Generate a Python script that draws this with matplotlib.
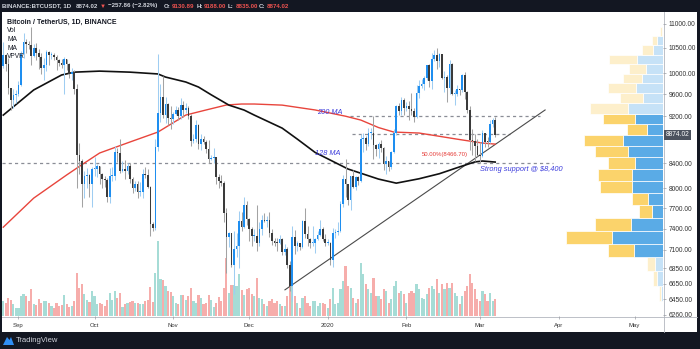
import numpy as np
import matplotlib
matplotlib.use("Agg")
import matplotlib.pyplot as plt
from matplotlib.patches import Rectangle, Polygon
from matplotlib.lines import Line2D
from matplotlib.ticker import NullLocator, FuncFormatter
from matplotlib.transforms import blended_transform_factory

plt.rcParams['font.family'] = ['Liberation Sans', 'DejaVu Sans']

# ---------------- data (daily candles, 26 Aug 2019 .. 7 Mar 2020) ----------------
opens = [10140,10360,10170,9720,9490,9580,
 9600,9770,10380,10620,10580,10570,10330,10490,10400,10320,10110,10160,10420,10350,10360,10310,10260,10190,10160,10270,10180,9980,10030,9690,8530,8430,8060,8190,8210,8060,
 8300,8300,8350,8230,8150,8130,7870,8200,8200,8580,8570,8270,8300,8280,8350,8150,8010,8070,7950,7950,8230,8210,8020,7470,7410,8660,9260,9550,9220,9420,9160,
 9150,9240,9310,9200,9400,9310,9340,9210,8770,8810,9040,8720,8800,8760,8640,8460,8490,8500,8170,8120,8080,7620,7280,7330,6900,7110,7160,7510,7420,7740,
 7540,7390,7290,7300,7200,7390,7530,7510,7530,7340,7220,7200,7190,7250,7070,7110,6890,6620,7280,7150,7190,7140,7510,7320,7250,7200,7200,7250,7310,7390,7250,
 7200,7200,6960,7340,7350,7360,7760,8150,8060,7820,8190,8020,8180,8110,8810,8820,8720,8900,8900,8700,8630,8720,8650,8390,8430,8340,8590,8900,9390,9290,9500,
 9350,9380,9330,9290,9180,9620,9760,9800,9900,10150,9850,10270,10350,10240,10370,9910,9930,9710,10170,9600,9610,9690,9670,9970,9650,9320,8790,8770,8690,
 8530,8520,8910,8760,8750,9070,9130.89]
highs = [10630,10380,10290,9720,9690,9670,
 9850,10440,10800,10690,10650,10930,10580,10600,10480,10390,10300,10450,10440,10420,10390,10360,10270,10280,10320,10280,10200,10100,10060,9790,8740,8460,8270,8320,8220,8330,
 8500,8390,8360,8240,8200,8160,8320,8330,8680,8650,8800,8430,8450,8400,8400,8170,8120,8120,8100,8300,8340,8300,8040,7500,8800,10370,9800,9950,9540,9440,9380,
 9280,9380,9370,9530,9470,9440,9380,9240,8880,9140,9070,8880,8850,8790,8780,8540,8650,8500,8230,8210,8110,7700,7350,7340,7370,7330,7650,7640,7860,7810,
 7560,7420,7400,7750,7490,7590,7620,7580,7640,7400,7270,7270,7310,7270,7180,7140,6950,7440,7380,7220,7200,7520,7700,7440,7270,7440,7270,7370,7520,7420,7320,
 7250,7210,7410,7400,7490,7800,8210,8460,8060,8200,8290,8190,8200,8880,8900,8850,9000,9000,9200,8720,8760,8790,8660,8520,8440,8600,8970,9400,9430,9550,9530,
 9450,9480,9620,9340,9780,9860,9880,9950,10160,10170,10390,10450,10500,10390,10380,10050,9970,10250,10190,9680,9770,9700,9990,10030,9660,9380,8970,8890,8800,
 8750,8960,8910,8840,9140,9170,9188.00]
lows = [10110,10050,9600,9320,9350,9430,
 9560,9750,10300,10400,10470,10150,10320,10250,10080,9980,9860,10040,10150,10280,10260,10070,10140,10100,9600,10070,9910,9860,9600,8000,8220,7710,7850,8000,7870,7710,
 8200,8170,8070,8000,8020,7790,7770,8120,8130,8420,8240,8250,8150,8230,8090,7930,7960,7850,7880,7850,8160,8010,7300,7360,7380,8600,9090,9160,9080,9040,8970,
 9070,9220,9130,9150,9180,9250,9150,8680,8740,8760,8640,8620,8710,8570,8400,8450,8400,8060,8000,8030,7500,6790,7140,6870,6520,7010,6860,7370,7410,7450,
 7230,7160,7230,7090,7160,7310,7500,7420,7280,7170,7150,7080,7180,7030,7030,6860,6560,6435,7040,7080,7100,7120,7270,7150,7120,7160,7060,7240,7300,7220,7150,
 7170,6900,6870,7270,7310,7350,7720,7870,7750,7670,8000,7970,8050,8100,8580,8610,8680,8800,8470,8520,8480,8580,8290,8230,8280,8300,8560,8870,9230,9230,9220,
 9300,9140,9230,9100,9160,9530,9720,9670,9870,9730,9700,10240,10080,10120,9880,9650,9460,9600,9580,9400,9570,9580,9640,9520,9260,8620,8530,8440,8520,
 8410,8500,8660,8660,8740,9010,8835.00]
closes = [10360,10170,9720,9490,9580,9600,
 9770,10380,10620,10580,10570,10330,10490,10400,10320,10110,10160,10420,10350,10360,10310,10260,10190,10160,10270,10180,9980,10030,9690,8530,8430,8060,8190,8210,8060,8300,
 8300,8350,8230,8150,8130,7870,8200,8200,8580,8570,8270,8300,8280,8350,8150,8010,8070,7950,7950,8230,8210,8020,7470,7410,8660,9260,9550,9220,9420,9160,9150,
 9240,9310,9200,9400,9310,9340,9210,8770,8810,9040,8720,8800,8760,8640,8460,8490,8500,8170,8120,8080,7620,7280,7330,6900,7110,7160,7510,7420,7740,7540,
 7390,7290,7300,7200,7390,7530,7510,7530,7340,7220,7200,7190,7250,7070,7110,6890,6620,7280,7150,7190,7140,7510,7320,7250,7200,7200,7250,7310,7390,7250,7200,
 7200,6960,7340,7350,7360,7760,8150,8060,7820,8190,8020,8180,8110,8810,8820,8720,8900,8900,8700,8630,8720,8650,8390,8430,8340,8590,8900,9390,9290,9500,9350,
 9380,9330,9290,9180,9620,9760,9800,9900,10150,9850,10270,10350,10240,10370,9910,9930,9710,10170,9600,9610,9690,9670,9970,9650,9320,8790,8770,8690,8530,
 8520,8910,8760,8750,9070,9130.89,8874.02]
volumes = [45,40,55,47,35,23,25,60,65,60,45,80,37,33,52,39,45,45,40,30,
 23,38,30,32,62,35,27,30,45,130,83,95,65,47,43,75,60,35,40,37,
 30,47,70,47,75,55,70,27,37,40,43,45,40,40,37,35,45,47,87,43,
 130,225,110,108,90,75,73,60,40,37,63,63,47,60,85,45,40,62,55,35,
 40,62,47,27,40,57,45,85,175,70,93,93,90,125,77,63,80,85,67,
 60,115,55,50,35,30,45,50,40,45,35,30,30,60,
 95,100,60,40,25,55,60,40,30,45,45,30,40,40,35,
 25,50,85,35,40,80,105,150,90,85,55,40,50,160,125,95,80,70,115,60,60,50,80,75,40,50,90,105,70,75,65,
 40,70,75,70,95,80,55,50,65,85,90,80,110,70,95,80,100,85,100,70,60,35,60,75,90,125,100,80,50,
 45,75,65,45,70,45,50]

# moving averages (day index, value)
ma128_days = [0, 12, 23, 28, 38, 50, 61, 64, 72, 77, 82, 89, 95, 99, 110, 116, 123, 136, 148, 155, 164, 172, 180, 186, 189, 194]
ma128_vals = [9220, 9680, 9965, 10020, 10040, 10020, 9985, 9925, 9830, 9735, 9590, 9400, 9310, 9220, 8990, 8800, 8576, 8305, 8145, 8081, 8150, 8230, 8340, 8420, 8435, 8418]
ma200_days = [0, 12, 25, 31, 38, 50, 61, 72, 80, 88, 94, 99, 110, 123, 135, 141, 148, 154, 164, 179, 189, 194]
ma200_vals = [7420, 7850, 8210, 8375, 8567, 8752, 8922, 9221, 9312, 9402, 9420, 9420, 9400, 9312, 9200, 9132, 9000, 8922, 8905, 8800, 8734, 8716]

# volume profile (visible range), bins from bottom to top
vp_up = [7, 18, 23, 88, 152, 97, 34, 46, 94, 94, 83, 104, 121, 48, 83, 105, 60, 80, 63, 52, 78, 30, 18, 3]
vp_down = [5, 12, 25, 76, 140, 106, 38, 48, 95, 101, 83, 101, 117, 59, 96, 115, 70, 86, 58, 51, 85, 33, 15, 5]
vp_value_area = (3, 14)
vp_range = (6435, 10930)

price_ticks = [11000, 10500, 10000, 9600, 9200, 8400, 8000, 7700, 7400, 7100, 6850, 6650, 6450, 6260]
month_days = [6, 36, 67, 97, 128, 159, 188, 219, 249]
month_labels = ['Sep', 'Oct', 'Nov', 'Dec', '2020', 'Feb', 'Mar', 'Apr', 'May']

support_level = 8400
upper_level = 9200
lower_level = 8888
fib_level = 8466.70
trend_pts = ([111.1, 213.7], [6572, 9312])

# ---------------- figure ----------------
W, H = 700, 349
fig = plt.figure(figsize=(W / 100, H / 100), dpi=100)
fig.patch.set_facecolor('#131722')

def fx(px):
    return px / W

def fy(py):
    return 1 - py / H

fig.add_artist(Rectangle((fx(2), fy(332)), 695 / W, 320 / H, transform=fig.transFigure,
                         facecolor='white', edgecolor='none', zorder=-10))

ax = fig.add_axes([fx(2), fy(316), 661 / W, 302 / H])
ax.set_yscale('log')
ax.set_ylim(6247, 11215)
ax.set_xlim(-0.5, 260.2)

ax_v = ax.twinx()
ax_vp = ax.twiny()
ax_v.set_zorder(1)
ax_vp.set_zorder(2)
ax.set_zorder(3)
ax.patch.set_visible(False)

O = np.array(opens, float)
Hh = np.array(highs, float)
L = np.array(lows, float)
C = np.array(closes, float)
V = np.array(volumes, float)
x = np.arange(len(C))
up = C >= O
dn = ~up

# volume
ax_v.bar(x[up], V[up], width=0.85, color='#a6dcd6', linewidth=0)
ax_v.bar(x[dn], V[dn], width=0.85, color='#f6adab', linewidth=0)
ax_v.set_ylim(0, 906)
ax_v.yaxis.set_visible(False)
for s in ax_v.spines.values():
    s.set_visible(False)

# volume profile
nb = len(vp_up)
edges = np.linspace(vp_range[0], vp_range[1], nb + 1)
bot = edges[:-1]
hgt = np.diff(edges)
upv = np.array(vp_up, float)
dnv = np.array(vp_down, float)
for i in range(nb):
    inva = vp_value_area[0] <= i <= vp_value_area[1]
    cu = '#5aabe6' if inva else '#c6e2f7'
    cd = '#fbd36b' if inva else '#fdefcb'
    ax_vp.barh(bot[i], upv[i], height=hgt[i], left=0, align='edge', color=cu,
               edgecolor='white', linewidth=0.5)
    ax_vp.barh(bot[i], dnv[i], height=hgt[i], left=upv[i], align='edge', color=cd,
               edgecolor='white', linewidth=0.5)
ax_vp.set_xlim(1985, 0)
ax_vp.xaxis.set_visible(False)
for s in ax_vp.spines.values():
    s.set_visible(False)

# horizontal levels and trend line
ax.plot([-0.5, 216.9], [support_level] * 2, color='#8a8d96', lw=0.9, ls=(0, (2.5, 2.5)), zorder=2)
ax.plot([136.8, 211.7], [upper_level] * 2, color='#8a8d96', lw=0.9, ls=(0, (2.5, 2.5)), zorder=2)
ax.plot([137.6, 199.9], [lower_level] * 2, color='#8a8d96', lw=0.9, ls=(0, (2.5, 2.5)), zorder=2)
ax.plot(trend_pts[0], trend_pts[1], color='#4a4a4a', lw=0.8, zorder=2)

# moving averages
ax.plot(ma200_days, ma200_vals, color='#e8453c', lw=1.0, zorder=4)
ax.plot(ma128_days, ma128_vals, color='#111111', lw=1.2, zorder=4)

# candles
ax.vlines(x[up], L[up], Hh[up], color='#9fcdf2', lw=0.75, zorder=5)
ax.vlines(x[dn], L[dn], Hh[dn], color='#a3a3a3', lw=0.75, zorder=5)
bb = np.minimum(O, C)
bh = np.maximum(np.abs(C - O), bb * 0.002)
ax.bar(x[up], bh[up], bottom=bb[up], width=0.65, color='#1e8ef0', linewidth=0, zorder=6)
ax.bar(x[dn], bh[dn], bottom=bb[dn], width=0.65, color='#3b3b3b', linewidth=0, zorder=6)

# annotations
blue = '#3c3cdc'
ax.text(123.8, 9258, '200 MA', color=blue, fontsize=5.3, style='italic', va='center', ha='left', zorder=7)
ax.text(123.0, 8553, '128 MA', color=blue, fontsize=5.3, style='italic', va='center', ha='left', zorder=7)
ax.text(165.2, 8536, '50.00%(8466.70)', color='#e53935', fontsize=4.3, va='center', ha='left', zorder=7)
ax.text(188.1, 8304, 'Strong support @ $8,400', color=blue, fontsize=5.3, style='italic', va='center', ha='left', zorder=7)

# axes styling
for s in ax.spines.values():
    s.set_visible(False)
ax.yaxis.tick_right()
ax.set_yticks(price_ticks)
ax.yaxis.set_minor_locator(NullLocator())
ax.yaxis.set_major_formatter(FuncFormatter(lambda v, p: f"{v:.2f}"))
ax.tick_params(axis='y', which='both', right=True, left=False, labelright=True, labelleft=False,
               length=2.5, width=0.5, color='#9a9ca3', pad=1.5, labelsize=4.8, labelcolor='#333333')
ax.set_xticks(month_days)
ax.set_xticklabels(month_labels)
ax.xaxis.set_minor_locator(NullLocator())
ax.tick_params(axis='x', length=2, width=0.5, color='#9a9ca3', pad=3, labelsize=4.3, labelcolor='#333333')

# current price box
tr = blended_transform_factory(ax.transAxes, ax.transData)
ax.text(1.004, closes[-1], f"{closes[-1]:.2f}", transform=tr, ha='left', va='center', fontsize=4.8,
        color='white', bbox=dict(boxstyle='square,pad=0.25', fc='#4c525e', ec='none'), zorder=10, clip_on=False)

# separators
fig.add_artist(Line2D([fx(663.5)] * 2, [fy(12), fy(332)], color='#b2b5be', lw=0.6, transform=fig.transFigure))
fig.add_artist(Line2D([fx(2), fx(697)], [fy(316.5)] * 2, color='#b2b5be', lw=0.6, transform=fig.transFigure))

# legend texts
fig.text(fx(7), fy(22), 'Bitcoin / TetherUS, 1D, BINANCE', fontsize=5.0, color='#131722', weight='bold', va='center')
for t, yy in [('Vol', 31), ('MA', 39.5), ('MA', 48), ('VPVR', 56.5)]:
    fig.text(fx(7), fy(yy), t, fontsize=4.8, color='#131722', va='center')

# header (pieces placed left to right without overlap)
hc = '#d1d4dc'
red = '#ef5350'
hy = fy(6)
hfam = ['Liberation Sans Narrow', 'Liberation Sans', 'DejaVu Sans']
pieces = [(2, 'BINANCE:BTCUSDT, 1D', hc), (76, '8874.02', hc), (100, '\u25bc', red),
          (107, '\u2212257.86 (\u22122.82%)', hc), (164, 'O:', hc), (170, '9130.89', red),
          (194, 'H:', hc), (199, '9188.00', red), (223, 'L:', hc), (228, '8835.00', red),
          (252, 'C:', hc), (257, '8874.02', red)]
renderer = fig.canvas.get_renderer()
probe = fig.text(0, 0, pieces[0][1], fontsize=5.0, weight='bold', family=hfam)
wprobe = probe.get_window_extent(renderer).width
probe.remove()
hfs = min(6.0, 5.0 * 71.0 / wprobe)
prev_end = 0
for px, t, c in pieces:
    start = max(px, prev_end + 1.5)
    tt = fig.text(fx(start), hy, t, fontsize=hfs, color=c, weight='bold', va='center', ha='left',
                  family=hfam)
    prev_end = start + tt.get_window_extent(renderer).width

# footer logo
logo = Polygon([[fx(3), fy(345)], [fx(7), fy(337)], [fx(9.5), fy(340)], [fx(11), fy(337)],
                [fx(14), fy(345)]], closed=True, transform=fig.transFigure,
               facecolor='#2f8ef4', edgecolor='none')
fig.add_artist(logo)
fig.text(fx(15.5), fy(341), 'TradingView', fontsize=5.5, color=hc, va='center', ha='left')

fig.savefig('out.png', dpi=100, facecolor=fig.get_facecolor())
